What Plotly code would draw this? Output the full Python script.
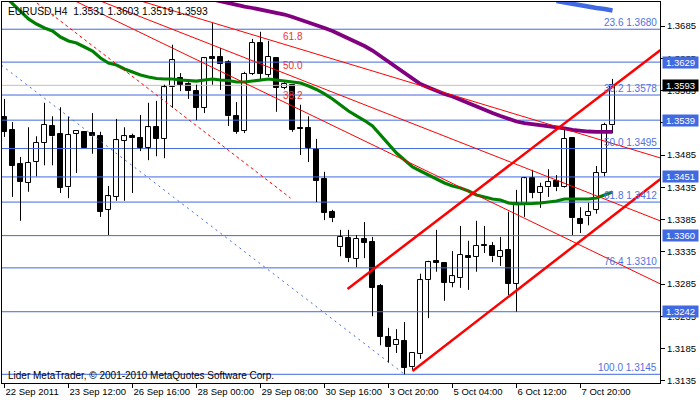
import plotly.graph_objects as go

# ---------------- data ----------------
bars = list(range(77))
opens = [1.3544, 1.3524, 1.3471, 1.3442, 1.3474, 1.3504, 1.3530, 1.3518, 1.3435, 1.3518,
         1.3521, 1.3519, 1.3514, 1.3400, 1.3420, 1.3507, 1.3514, 1.3511, 1.3496, 1.3528,
         1.3510, 1.3590, 1.3604, 1.3595, 1.3584, 1.3558, 1.3637, 1.3637, 1.3629, 1.3545,
         1.3522, 1.3611, 1.3659, 1.3609, 1.3635, 1.3589, 1.3594, 1.3527, 1.3527, 1.3494,
         1.3448, 1.3397, 1.3342, 1.3356, 1.3324, 1.3355, 1.3350, 1.3282, 1.3203, 1.3190,
         1.3197, 1.3156, 1.3176, 1.3291, 1.3321, 1.3318, 1.3287, 1.3294, 1.3328, 1.3327,
         1.3345, 1.3344, 1.3327, 1.3338, 1.3285, 1.3409, 1.3449, 1.3426, 1.3435, 1.3445,
         1.3435, 1.3511, 1.3386, 1.3390, 1.3400, 1.3457, 1.3531]
highs = [1.3572, 1.3536, 1.3482, 1.3528, 1.3514, 1.3566, 1.3545, 1.3559, 1.3544, 1.3522,
         1.3521, 1.3550, 1.3521, 1.3437, 1.3541, 1.3528, 1.3518, 1.3547, 1.3566, 1.3569,
         1.3594, 1.3656, 1.3612, 1.3598, 1.3594, 1.3637, 1.3690, 1.3651, 1.3632, 1.3567,
         1.3614, 1.3665, 1.3676, 1.3662, 1.3635, 1.3598, 1.3594, 1.3563, 1.3545, 1.3510,
         1.3459, 1.3400, 1.3369, 1.3369, 1.3361, 1.3381, 1.3358, 1.3285, 1.3217, 1.3215,
         1.3226, 1.3178, 1.3301, 1.3321, 1.3369, 1.3319, 1.3336, 1.3375, 1.3352, 1.3383,
         1.3375, 1.3350, 1.3358, 1.3397, 1.3431, 1.3451, 1.3462, 1.3442, 1.3463, 1.3454,
         1.3528, 1.3513, 1.3404, 1.3411, 1.3468, 1.3535, 1.3603]
lows = [1.3513, 1.3420, 1.3383, 1.3428, 1.3452, 1.3469, 1.3469, 1.3426, 1.3418, 1.3457,
        1.3496, 1.3487, 1.3389, 1.3361, 1.3414, 1.3414, 1.3426, 1.3491, 1.3477, 1.3483,
        1.3480, 1.3558, 1.3584, 1.3572, 1.3539, 1.3550, 1.3594, 1.3586, 1.3530, 1.3518,
        1.3519, 1.3609, 1.3601, 1.3606, 1.3552, 1.3587, 1.3521, 1.3485, 1.3474, 1.3412,
        1.3384, 1.3381, 1.3328, 1.3319, 1.3311, 1.3325, 1.3235, 1.3190, 1.3163, 1.3178,
        1.3145, 1.3152, 1.3169, 1.3232, 1.3304, 1.3259, 1.3280, 1.3279, 1.3276, 1.3304,
        1.3333, 1.3319, 1.3313, 1.3268, 1.3242, 1.3389, 1.3418, 1.3403, 1.3420, 1.3429,
        1.3434, 1.3361, 1.3364, 1.3376, 1.3394, 1.3452, 1.3519]
closes = [1.3521, 1.3468, 1.3443, 1.3473, 1.3504, 1.3532, 1.3514, 1.3434, 1.3516, 1.3522,
          1.3496, 1.3514, 1.3397, 1.3421, 1.3508, 1.3514, 1.3511, 1.3496, 1.3528, 1.3510,
          1.3590, 1.3632, 1.3594, 1.3584, 1.3558, 1.3635, 1.3634, 1.3626, 1.3545, 1.3521,
          1.3611, 1.3659, 1.3611, 1.3637, 1.3589, 1.3595, 1.3524, 1.3526, 1.3496, 1.3445,
          1.3395, 1.3387, 1.3358, 1.3325, 1.3355, 1.3349, 1.3279, 1.3203, 1.3187, 1.3198,
          1.3155, 1.3178, 1.3291, 1.3319, 1.3318, 1.3287, 1.3297, 1.3330, 1.3325, 1.3344,
          1.3344, 1.3328, 1.3336, 1.3285, 1.3411, 1.3449, 1.3426, 1.3435, 1.3443, 1.3435,
          1.3510, 1.3387, 1.3378, 1.3397, 1.3457, 1.3532, 1.3593]

green_ma = [1.37315, 1.37191, 1.37067, 1.36959, 1.36881, 1.36819, 1.36772, 1.36679, 1.36617, 1.36586,
            1.36524, 1.36462, 1.36354, 1.36276, 1.36245, 1.36183, 1.36137, 1.36090, 1.36059, 1.36036,
            1.36028, 1.36028, 1.36013, 1.36005, 1.35997, 1.36013, 1.36028, 1.36013, 1.36005, 1.35982,
            1.35982, 1.35997, 1.36013, 1.36028, 1.36013, 1.35997, 1.35982, 1.35966, 1.35920, 1.35866,
            1.35796, 1.35718, 1.35625, 1.35532, 1.35455, 1.35385, 1.35300, 1.35160, 1.35036, 1.34881,
            1.34773, 1.34664, 1.34602, 1.34540, 1.34470, 1.34416, 1.34369, 1.34338, 1.34292, 1.34230,
            1.34199, 1.34168, 1.34152, 1.34106, 1.34090, 1.34090, 1.34098, 1.34106, 1.34121, 1.34137,
            1.34168, 1.34168, 1.34168, 1.34168, 1.34183, 1.34230, 1.34276]
purple_start = 26
purple_ma = [1.37261, 1.37230, 1.37207, 1.37176, 1.37152, 1.37129, 1.37106, 1.37083, 1.37059, 1.37028,
             1.36990, 1.36951, 1.36912, 1.36866, 1.36819, 1.36773, 1.36718, 1.36648, 1.36594, 1.36540,
             1.36470, 1.36385, 1.36292, 1.36214, 1.36121, 1.36028, 1.35951, 1.35897, 1.35842, 1.35796,
             1.35757, 1.35703, 1.35656, 1.35594, 1.35548, 1.35501, 1.35455, 1.35408, 1.35369, 1.35346,
             1.35331, 1.35307, 1.35292, 1.35276, 1.35261, 1.35238, 1.35222, 1.35214, 1.35207, 1.35207,
             1.35207]
blue_start = 69
blue_ma = [1.37238, 1.37214, 1.37191, 1.37168, 1.37145, 1.37129, 1.37114, 1.37090]

hline_prices = [1.3629, 1.3539, 1.3451, 1.3360, 1.3242]
bid_price = 1.3593
fib_levels = [23.6, 38.2, 50.0, 61.8, 76.4, 100.0]
fib_prices = [1.3680, 1.3578, 1.3495, 1.3412, 1.3310, 1.3145]
fib_trend_x = [-23.6, 50]
fib_trend_y = [1.3845, 1.3145]

channel_upper_x = [42.875, 82]
channel_upper_y = [1.32772, 1.36478]
channel_lower_x = [51, 82]
channel_lower_y = [1.31501, 1.34478]

fan_origin = (-4.875, 1.38059)
fan_point2 = (35.75, 1.34183)
fan_end_bar = 82
fan_end_prices = [1.34804, 1.33827, 1.32850]
fan_labels = ["61.8", "50.0", "38.2"]
fan_label_bar = 34.6
fan_label_prices = [1.36687, 1.36238, 1.35772]

ytick_vals = [1.3135, 1.3185, 1.3235, 1.3285, 1.3335, 1.3385, 1.3435, 1.3485,
              1.3535, 1.3585, 1.3635, 1.3685]
xtick_bars = [0, 8, 16, 24, 32, 40, 48, 56, 64, 72]
xtick_labels = ["22 Sep 2011", "23 Sep 12:00", "26 Sep 16:00", "28 Sep 00:00", "29 Sep 08:00",
                "30 Sep 16:00", "3 Oct 20:00", "5 Oct 04:00", "6 Oct 12:00", "7 Oct 20:00"]
title_text = "EURUSD,H4\u00a0\u00a01.3531 1.3603 1.3519 1.3593"
copyright_text = "Lider MetaTrader, \u00a9 2001-2010 MetaQuotes Software Corp."

# ---------------- styling ----------------
FONT = "Liberation Sans"
FS = 9.5
LINE_BLUE = "#4169e1"
FIB_TEXT = "#4f72e0"
RED = "#ff0000"

fig = go.Figure()

# horizontal level lines
x_full = [-2, 84]
for p in hline_prices + fib_prices:
    fig.add_trace(go.Scatter(x=x_full, y=[p, p], mode="lines",
                             line=dict(color=LINE_BLUE, width=1)))
fig.add_trace(go.Scatter(x=x_full, y=[bid_price, bid_price], mode="lines",
                         line=dict(color="#c0c0c0", width=1)))

# candle wicks
wx, wy = [], []
for i, o, h, l, c in zip(bars, opens, highs, lows, closes):
    top, bot = max(o, c), min(o, c)
    if h > top:
        wx += [i, i, None]
        wy += [top, h, None]
    if l < bot:
        wx += [i, i, None]
        wy += [bot, l, None]
fig.add_trace(go.Scatter(x=wx, y=wy, mode="lines", line=dict(color="black", width=1)))

# candle bodies
base = [min(o, c) for o, c in zip(opens, closes)]
height = [max(abs(c - o), 0.00012) for o, c in zip(opens, closes)]
colors = ["white" if c > o else "black" for o, c in zip(opens, closes)]
fig.add_trace(go.Bar(x=bars, y=height, base=base, width=0.6,
                     marker=dict(color=colors, line=dict(color="black", width=1))))

# moving averages
fig.add_trace(go.Scatter(x=bars, y=green_ma, mode="lines",
                         line=dict(color="#008000", width=3.2)))
fig.add_trace(go.Scatter(x=list(range(purple_start, purple_start + len(purple_ma))), y=purple_ma,
                         mode="lines", line=dict(color="#800080", width=3.8)))
fig.add_trace(go.Scatter(x=list(range(blue_start, blue_start + len(blue_ma))), y=blue_ma,
                         mode="lines", line=dict(color=LINE_BLUE, width=4.5)))

# fib trendline (dotted)
fig.add_trace(go.Scatter(x=fib_trend_x, y=fib_trend_y, mode="lines",
                         line=dict(color=LINE_BLUE, width=1, dash="2px,4px")))

# fan
fig.add_trace(go.Scatter(x=[fan_origin[0], fan_point2[0]], y=[fan_origin[1], fan_point2[1]],
                         mode="lines", line=dict(color=RED, width=1, dash="3px,3px")))
for pe in fan_end_prices:
    fig.add_trace(go.Scatter(x=[fan_origin[0], fan_end_bar], y=[fan_origin[1], pe],
                             mode="lines", line=dict(color=RED, width=1)))

# channel
fig.add_trace(go.Scatter(x=channel_upper_x, y=channel_upper_y, mode="lines",
                         line=dict(color=RED, width=2.5)))
fig.add_trace(go.Scatter(x=channel_lower_x, y=channel_lower_y, mode="lines",
                         line=dict(color=RED, width=2.5)))

annotations = []
annotations.append(dict(text=title_text, xref="paper", yref="paper", x=0, y=0.975,
                        xanchor="left", yanchor="middle", xshift=4, showarrow=False,
                        font=dict(family=FONT, size=10.3, color="black")))
annotations.append(dict(text=copyright_text, xref="paper", yref="paper", x=0, y=0.0197,
                        xanchor="left", yanchor="middle", xshift=4, showarrow=False,
                        font=dict(family=FONT, size=10, color="black")))
for lvl, p in zip(fib_levels, fib_prices):
    annotations.append(dict(text=f"{lvl:.1f} {p:.4f}", xref="paper", yref="y", x=1, y=p,
                            xanchor="right", yanchor="bottom", xshift=-1, yshift=-1,
                            showarrow=False, font=dict(family=FONT, size=10, color=FIB_TEXT)))
for t, p in zip(fan_labels, fan_label_prices):
    annotations.append(dict(text=t, xref="x", yref="y", x=fan_label_bar, y=p,
                            xanchor="left", yanchor="middle", showarrow=False,
                            font=dict(family=FONT, size=10, color="#f03030")))
for p in hline_prices:
    annotations.append(dict(text=f"{p:.4f}", xref="paper", yref="y", x=1, y=p,
                            xanchor="left", yanchor="middle", xshift=2, showarrow=False,
                            bgcolor=LINE_BLUE, width=35, height=11, borderpad=0,
                            font=dict(family=FONT, size=FS, color="white")))
annotations.append(dict(text=f"{bid_price:.4f}", xref="paper", yref="y", x=1, y=bid_price,
                        xanchor="left", yanchor="middle", xshift=2, showarrow=False,
                        bgcolor="black", width=35, height=11, borderpad=0,
                        font=dict(family=FONT, size=FS, color="white")))

fig.update_layout(
    width=700, height=402,
    margin=dict(l=2, r=40, t=2, b=19, pad=0, autoexpand=False),
    paper_bgcolor="white", plot_bgcolor="white",
    showlegend=False, hovermode=False,
    font=dict(family=FONT, size=FS, color="black"),
    annotations=annotations,
    bargap=0,
)
fig.update_xaxes(range=[-0.3125, 81.9375], showgrid=False, zeroline=False,
                 showline=True, linecolor="black", linewidth=1, mirror=True,
                 ticks="outside", ticklen=4, tickcolor="black", tickwidth=1,
                 tickvals=xtick_bars, ticktext=xtick_labels, tickangle=0,
                 ticklabelposition="outside right", automargin=False,
                 tickfont=dict(family=FONT, size=FS, color="black"))
fig.update_yaxes(range=[1.313151, 1.372221], side="right", showgrid=False, zeroline=False,
                 showline=True, linecolor="black", linewidth=1, mirror=True,
                 ticks="outside", ticklen=4, tickcolor="black", tickwidth=1,
                 tickvals=ytick_vals, ticktext=[f"{v:.4f}" for v in ytick_vals],
                 automargin=False,
                 tickfont=dict(family=FONT, size=FS, color="black"))

fig.write_html("out.html", config={"displayModeBar": False},
               post_script="document.body.style.margin='0px';document.body.style.padding='0px';")
